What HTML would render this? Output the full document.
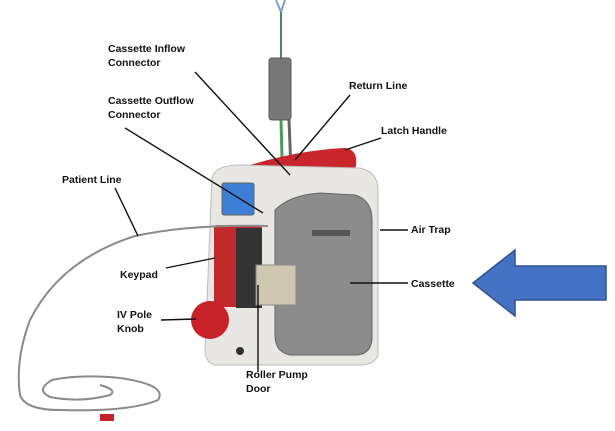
<!DOCTYPE html>
<html><head><style>
html,body{margin:0;padding:0;background:#fff;}
svg{display:block;}
text{font-family:"Liberation Sans",sans-serif;font-weight:bold;font-size:10.5px;fill:#111;}
</style></head><body>
<svg width="615" height="431" viewBox="0 0 615 431" xmlns="http://www.w3.org/2000/svg">
<path d="M276 0 L281 12 L285 0" stroke="#7aa0c8" stroke-width="2" fill="none"/>
<line x1="281" y1="12" x2="281" y2="60" stroke="#4a8a5a" stroke-width="2"/>
<rect x="269" y="58" width="22" height="62" rx="3" fill="#777" stroke="#555"/>
<line x1="281" y1="120" x2="283" y2="195" stroke="#4a9a5a" stroke-width="3"/>
<line x1="289" y1="120" x2="292" y2="195" stroke="#666" stroke-width="3"/>
<path d="M250 165 Q300 150 345 148 Q360 150 355 170 L300 175 Z" fill="#c8262a"/>
<path d="M212 178 Q215 165 240 165 L360 168 Q378 172 378 190 L378 355 Q375 365 360 365 L215 365 Q205 362 205 350 Z" fill="#e9e7e3" stroke="#bbb"/>
<rect x="222" y="183" width="32" height="32" rx="2" fill="#3d7fd6" stroke="#666"/>
<rect x="214" y="225" width="48" height="82" rx="3" fill="#c02a2a"/>
<rect x="236" y="228" width="26" height="80" fill="#333"/>
<path d="M275 210 Q290 195 320 193 L355 195 Q372 200 372 220 L372 340 Q370 355 355 355 L290 355 Q275 352 275 335 Z" fill="#8c8c8c" stroke="#666"/>
<rect x="312" y="230" width="38" height="6" fill="#555"/>
<rect x="256" y="265" width="40" height="40" fill="#cfc7b0" stroke="#888"/>
<circle cx="210" cy="320" r="19" fill="#c62228"/>
<circle cx="240" cy="351" r="4" fill="#333"/>
<!-- patient line -->
<g stroke="#8a8a8a" stroke-width="2" fill="none">
<path d="M268 226 Q190 224 135 236 Q60 260 30 320 Q15 360 20 395 Q25 410 60 410 Q130 412 158 400 Q168 385 120 378 Q80 374 52 380 Q35 390 50 397 Q80 403 110 395 Q118 390 100 385"/>
</g>
<rect x="100" y="414" width="14" height="7" fill="#c62228"/>
<g stroke="#111" stroke-width="1.4" fill="none">
<line x1="195" y1="72" x2="290" y2="175"/>
<line x1="125" y1="128" x2="263" y2="213"/>
<line x1="350" y1="95" x2="295" y2="160"/>
<line x1="381" y1="138" x2="345" y2="150"/>
<line x1="115" y1="188" x2="138" y2="236"/>
<line x1="408" y1="230" x2="380" y2="230"/>
<line x1="408" y1="283" x2="350" y2="283"/>
<line x1="166" y1="268" x2="215" y2="258"/>
<line x1="161" y1="320" x2="196" y2="319"/>
<line x1="258" y1="372" x2="258" y2="285"/>
</g>
<text x="108" y="52">Cassette Inflow</text><text x="108" y="66">Connector</text>
<text x="108" y="104">Cassette Outflow</text><text x="108" y="118">Connector</text>
<text x="349" y="89">Return Line</text>
<text x="381" y="134">Latch Handle</text>
<text x="62" y="183">Patient Line</text>
<text x="411" y="233">Air Trap</text>
<text x="411" y="287">Cassette</text>
<text x="120" y="278">Keypad</text>
<text x="117" y="318">IV Pole</text><text x="117" y="332">Knob</text>
<text x="246" y="378">Roller Pump</text><text x="246" y="392">Door</text>
<path d="M473 283 L515 250 L515 266 L606 266 L606 300 L515 300 L515 316 Z" fill="#4472c4" stroke="#2f528f" stroke-width="1.5"/>
</svg>
</body></html>
